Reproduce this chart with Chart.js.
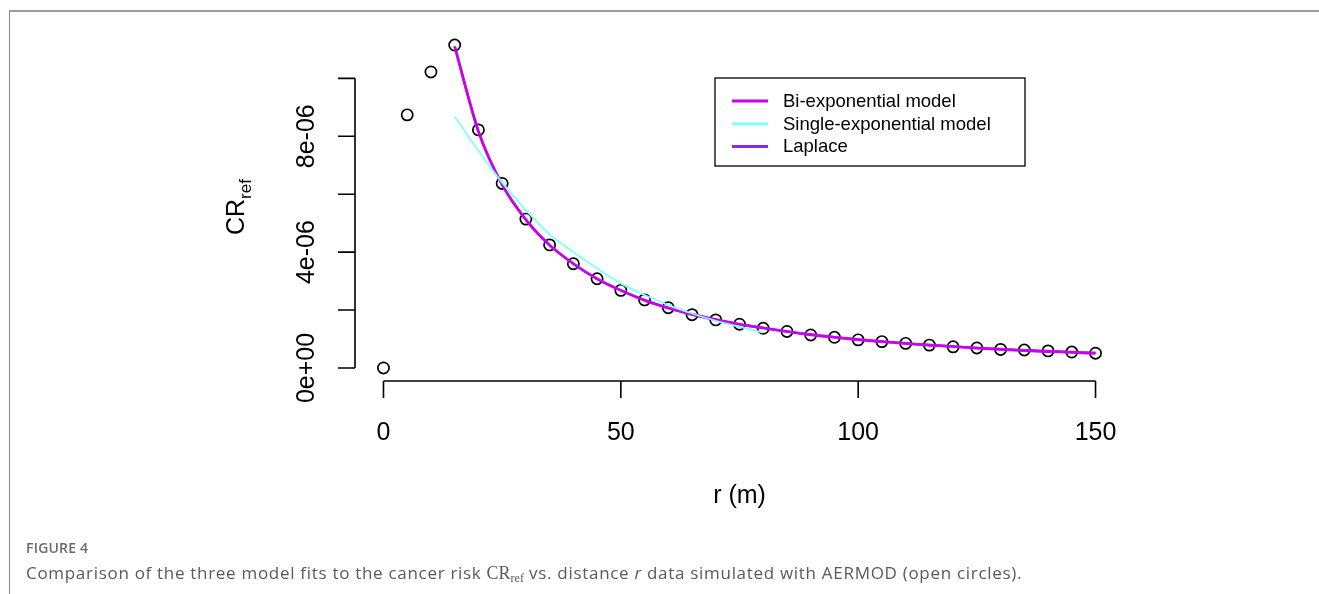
<!DOCTYPE html>
<html>
<head>
<meta charset="utf-8">
<script src="https://cdn.jsdelivr.net/npm/chart.js@4.4.1/dist/chart.umd.min.js"></script>
<style>
  html, body { margin: 0; padding: 0; background: #fff; }
  #wrap { position: absolute; left: 0; top: 0; width: 1319px; height: 594px; overflow: hidden; }
  #frame { position: absolute; left: 9px; top: 10px; width: 1320px; height: 600px;
           border-top: 2px solid #9a9a9a; border-left: 1px solid #8a8a8a; }
  canvas { position: absolute; left: 0; top: 0; }
  #figLabel { position: absolute; left: 26px; top: 538px; font-family: "Open Sans", sans-serif;
              font-weight: 600; font-size: 14px; color: #6a6a6a; letter-spacing: 0.2px; }
  #caption { position: absolute; left: 26px; top: 561px; font-family: "Open Sans", sans-serif;
             font-size: 17px; color: #5a5a5a; white-space: nowrap; letter-spacing: 0.7px; }
  #caption .cr { font-family: "Liberation Serif", "DejaVu Serif", serif; font-size: 18px; letter-spacing: 0; }
  #caption sub { font-size: 12px; vertical-align: -3px; }
</style>
</head>
<body>
<div id="wrap">
  <div id="frame"></div>
  <canvas id="crChart" width="1319" height="594"></canvas>
  <div id="figLabel">FIGURE 4</div>
  <div id="caption">Comparison of the three model fits to the cancer risk <span class="cr">CR<sub>ref</sub></span> vs. distance <i>r</i> data simulated with AERMOD (open circles).</div>
</div>
<script>
// AERMOD simulated points (open circles)
const distances = [0, 5, 10, 15, 20, 25, 30, 35, 40, 45, 50, 55, 60, 65, 70, 75, 80, 85, 90, 95, 100,
                   105, 110, 115, 120, 125, 130, 135, 140, 145, 150];
const aermodCR = [0, 8.74e-6, 10.22e-6, 11.15e-6, 8.22e-6, 6.37e-6, 5.14e-6, 4.25e-6, 3.60e-6, 3.08e-6,
                  2.68e-6, 2.35e-6, 2.08e-6, 1.84e-6, 1.66e-6, 1.51e-6, 1.37e-6, 1.26e-6, 1.14e-6, 1.06e-6,
                  0.97e-6, 0.91e-6, 0.85e-6, 0.79e-6, 0.73e-6, 0.69e-6, 0.64e-6, 0.62e-6, 0.59e-6, 0.55e-6, 0.51e-6];

// model curves
const fitDistances = [15, 20, 25, 30, 35, 40, 45, 50, 55, 60, 65, 70, 75, 80, 85, 90, 95, 100,
                      105, 110, 115, 120, 125, 130, 135, 140, 145, 150];
const biExpCR = [11.10e-6, 8.17e-6, 6.33e-6, 5.12e-6, 4.24e-6, 3.60e-6, 3.08e-6, 2.68e-6, 2.34e-6, 2.07e-6,
                 1.85e-6, 1.67e-6, 1.51e-6, 1.38e-6, 1.26e-6, 1.15e-6, 1.06e-6, 0.98e-6, 0.91e-6, 0.85e-6,
                 0.79e-6, 0.74e-6, 0.69e-6, 0.65e-6, 0.61e-6, 0.58e-6, 0.55e-6, 0.52e-6];
const laplaceCR = [11.10e-6, 8.17e-6, 6.33e-6, 5.12e-6, 4.24e-6, 3.60e-6, 3.08e-6, 2.68e-6, 2.34e-6, 2.07e-6,
                   1.85e-6, 1.67e-6, 1.51e-6, 1.38e-6, 1.26e-6, 1.15e-6, 1.06e-6, 0.98e-6, 0.91e-6, 0.85e-6,
                   0.79e-6, 0.74e-6, 0.685e-6, 0.64e-6, 0.60e-6, 0.565e-6, 0.535e-6, 0.50e-6];
const singleDistances = [15, 20, 25, 30, 35, 40, 45, 50, 55, 60, 65, 70, 75, 80];
const singleExpCR = [8.68e-6, 7.50e-6, 6.40e-6, 5.45e-6, 4.62e-6, 4.00e-6, 3.44e-6, 2.92e-6, 2.52e-6, 2.17e-6,
                     1.88e-6, 1.63e-6, 1.42e-6, 1.22e-6];

// axis ticks
const xTicks = [0, 50, 100, 150];
const yTicks = [0, 2e-6, 4e-6, 6e-6, 8e-6, 10e-6];
const yTickLabels = { 0: '0e+00', 2: '', 4: '4e-06', 6: '', 8: '8e-06', 10: '' };

const colBi = '#cc00ee';
const colSingle = '#80ffff';
const colLaplace = '#8a2be2';

function pts(xs, ys) {
    return xs.map((x, i) => ({ x: x, y: ys[i] }));
}

// R-style axes, labels and legend
const rStylePlugin = {
    id: 'rStyle',
    afterDraw(chart) {
        const ctx = chart.ctx;
        const xs = chart.scales.x;
        const ys = chart.scales.y;
        const left = chart.chartArea.left;
        const bottom = chart.chartArea.bottom;
        const tickLen = 17;
        ctx.save();
        ctx.strokeStyle = '#000';
        ctx.fillStyle = '#000';
        ctx.lineWidth = 1.6;

        // y axis
        ctx.beginPath();
        ctx.moveTo(left, ys.getPixelForValue(yTicks[0]));
        ctx.lineTo(left, ys.getPixelForValue(yTicks[yTicks.length - 1]));
        yTicks.forEach(v => {
            const py = ys.getPixelForValue(v);
            ctx.moveTo(left, py);
            ctx.lineTo(left - tickLen, py);
        });
        ctx.stroke();
        ctx.font = '25px "Liberation Sans", Arial, sans-serif';
        ctx.textAlign = 'center';
        ctx.textBaseline = 'middle';
        yTicks.forEach(v => {
            const txt = yTickLabels[Math.round(v * 1e6)];
            if (!txt) return;
            ctx.save();
            ctx.translate(left - 48, ys.getPixelForValue(v));
            ctx.rotate(-Math.PI / 2);
            ctx.fillText(txt, 0, 0);
            ctx.restore();
        });

        // x axis
        ctx.beginPath();
        ctx.moveTo(xs.getPixelForValue(xTicks[0]), bottom);
        ctx.lineTo(xs.getPixelForValue(xTicks[xTicks.length - 1]), bottom);
        xTicks.forEach(v => {
            const px = xs.getPixelForValue(v);
            ctx.moveTo(px, bottom);
            ctx.lineTo(px, bottom + tickLen);
        });
        ctx.stroke();
        xTicks.forEach(v => {
            ctx.fillText(String(v), xs.getPixelForValue(v), bottom + 52);
        });

        // axis titles
        ctx.fillText('r (m)', xs.getPixelForValue(75), bottom + 115);
        ctx.save();
        ctx.translate(237, 206);
        ctx.rotate(-Math.PI / 2);
        ctx.textAlign = 'left';
        ctx.font = '25px "Liberation Sans", Arial, sans-serif';
        const crW = ctx.measureText('CR').width;
        const startX = -(crW + 22) / 2;
        ctx.fillText('CR', startX, 0);
        ctx.font = '17px "Liberation Sans", Arial, sans-serif';
        ctx.fillText('ref', startX + crW, 9);
        ctx.restore();

        // legend
        const lg = { x: 715, y: 78, w: 310, h: 88 };
        ctx.lineWidth = 1.3;
        ctx.strokeRect(lg.x, lg.y, lg.w, lg.h);
        const items = chart.data.datasets.filter(d => d.legendRow !== undefined)
            .sort((a, b) => a.legendRow - b.legendRow);
        ctx.font = '18.5px "Liberation Sans", Arial, sans-serif';
        ctx.textAlign = 'left';
        items.forEach((d, i) => {
            const rowY = 101 + i * 22.7;
            ctx.strokeStyle = d.borderColor;
            ctx.lineWidth = 3;
            ctx.beginPath();
            ctx.moveTo(732, rowY);
            ctx.lineTo(768, rowY);
            ctx.stroke();
            ctx.fillStyle = '#000';
            ctx.fillText(d.label, 783, rowY + 1);
        });
        ctx.restore();
    }
};

new Chart(document.getElementById('crChart').getContext('2d'), {
    type: 'scatter',
    data: {
        datasets: [
            {
                label: 'Single-exponential model',
                legendRow: 1,
                data: pts(singleDistances, singleExpCR),
                showLine: true,
                borderColor: colSingle,
                borderWidth: 1.8,
                pointRadius: 0,
                cubicInterpolationMode: 'monotone'
            },
            {
                label: 'Bi-exponential model',
                legendRow: 0,
                data: pts(fitDistances, biExpCR),
                showLine: true,
                borderColor: colBi,
                borderWidth: 2.6,
                pointRadius: 0,
                cubicInterpolationMode: 'monotone'
            },
            {
                label: 'Laplace',
                legendRow: 2,
                data: pts(fitDistances, laplaceCR),
                showLine: true,
                borderColor: colLaplace,
                borderWidth: 2.6,
                pointRadius: 0,
                cubicInterpolationMode: 'monotone'
            },
            {
                label: 'AERMOD',
                data: pts(distances, aermodCR),
                showLine: false,
                pointStyle: 'circle',
                pointRadius: 5.6,
                pointBorderWidth: 1.7,
                pointBorderColor: '#000',
                pointBackgroundColor: 'rgba(0,0,0,0)'
            }
        ]
    },
    options: {
        responsive: false,
        animation: false,
        devicePixelRatio: 1,
        layout: { padding: { left: 355, right: 195, top: 32, bottom: 213 } },
        scales: {
            x: { type: 'linear', min: -6, max: 156, display: false },
            y: { type: 'linear', min: -0.45e-6, max: 11.6e-6, display: false }
        },
        plugins: {
            legend: { display: false },
            tooltip: { enabled: false }
        }
    },
    plugins: [rStylePlugin]
});
</script>
</body>
</html>
